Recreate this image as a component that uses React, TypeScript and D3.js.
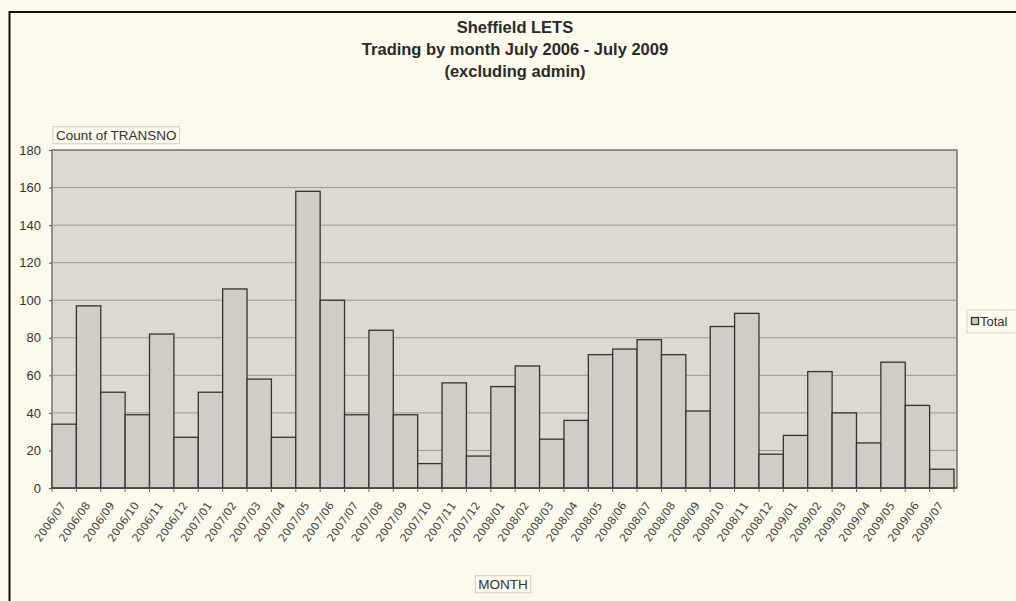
import { useEffect, useRef } from 'react';
import * as d3 from 'd3';

const months = [
  '2006/07', '2006/08', '2006/09', '2006/10', '2006/11', '2006/12',
  '2007/01', '2007/02', '2007/03', '2007/04', '2007/05', '2007/06',
  '2007/07', '2007/08', '2007/09', '2007/10', '2007/11', '2007/12',
  '2008/01', '2008/02', '2008/03', '2008/04', '2008/05', '2008/06',
  '2008/07', '2008/08', '2008/09', '2008/10', '2008/11', '2008/12',
  '2009/01', '2009/02', '2009/03', '2009/04', '2009/05', '2009/06',
  '2009/07',
];

const totals = [
  34, 97, 51, 39, 82, 27,
  51, 106, 58, 27, 158, 100,
  39, 84, 39, 13, 56, 17,
  54, 65, 26, 36, 71, 74,
  79, 71, 41, 86, 93, 18,
  28, 62, 40, 24, 67, 44,
  10,
];

const yTicks = [0, 20, 40, 60, 80, 100, 120, 140, 160, 180];

const titleLines = ['Sheffield LETS', 'Trading by month July 2006 - July 2009', '(excluding admin)'];

const App = () => {
  const svgRef = useRef(null);

  useEffect(() => {
    const svg = d3.select(svgRef.current);
    svg.selectAll('*').remove();

    const W = 1016, H = 601;
    const plot = { left: 52, right: 957, top: 150, bottom: 488 };
    const font = 'Liberation Sans, Arial, sans-serif';

    // paper
    svg.append('rect').attr('width', W).attr('height', H).attr('fill', '#fbfaec');
    svg.append('line').attr('x1', 9.5).attr('x2', W).attr('y1', 12).attr('y2', 12)
      .attr('stroke', '#111').attr('stroke-width', 2);
    svg.append('line').attr('x1', 9.5).attr('x2', 9.5).attr('y1', 11).attr('y2', H)
      .attr('stroke', '#111').attr('stroke-width', 2);

    // title
    svg.append('g').selectAll('text').data(titleLines).enter().append('text')
      .attr('x', 515)
      .attr('y', (_, i) => 33 + i * 22)
      .attr('text-anchor', 'middle')
      .attr('font-family', font)
      .attr('font-weight', 'bold')
      .attr('font-size', 16.5)
      .attr('fill', '#2a2a2a')
      .text(d => d);

    const x = d3.scaleBand().domain(months).range([plot.left, plot.right - 3]).padding(0);
    const y = d3.scaleLinear().domain([0, 180]).range([plot.bottom, plot.top]);

    // plot area
    svg.append('rect')
      .attr('x', plot.left).attr('y', plot.top)
      .attr('width', plot.right - plot.left).attr('height', plot.bottom - plot.top)
      .attr('fill', '#dcdad0')
      .attr('stroke', '#555').attr('stroke-width', 1.2);

    // gridlines
    svg.append('g').selectAll('line').data(yTicks.filter(t => t > 0 && t < 180)).enter().append('line')
      .attr('x1', plot.left).attr('x2', plot.right)
      .attr('y1', d => y(d)).attr('y2', d => y(d))
      .attr('stroke', '#9a9890').attr('stroke-width', 1);

    // y axis
    const yAxis = svg.append('g')
      .attr('transform', `translate(${plot.left},0)`)
      .call(d3.axisLeft(y).tickValues(yTicks).tickSize(3).tickPadding(8));
    yAxis.select('.domain').remove();
    yAxis.selectAll('line').attr('stroke', '#555');
    yAxis.selectAll('text')
      .attr('font-family', font).attr('font-size', 13).attr('fill', '#333');

    // bars
    svg.append('g').selectAll('rect').data(totals).enter().append('rect')
      .attr('x', (_, i) => x(months[i]))
      .attr('y', d => y(d))
      .attr('width', x.bandwidth())
      .attr('height', d => y(0) - y(d))
      .attr('fill', '#cfcdc5')
      .attr('stroke', '#333')
      .attr('stroke-width', 1.3);

    // x axis
    svg.append('line')
      .attr('x1', plot.left).attr('x2', plot.right)
      .attr('y1', plot.bottom).attr('y2', plot.bottom)
      .attr('stroke', '#444').attr('stroke-width', 1.5);
    svg.append('g').selectAll('line').data(months.concat(['end'])).enter().append('line')
      .attr('x1', (_, i) => plot.left + i * x.step())
      .attr('x2', (_, i) => plot.left + i * x.step())
      .attr('y1', plot.bottom).attr('y2', plot.bottom + 4)
      .attr('stroke', '#666');

    svg.append('g').selectAll('text').data(months).enter().append('text')
      .attr('transform', d => `translate(${x(d) + x.bandwidth() / 2 - 1},${plot.bottom + 15}) rotate(-55)`)
      .attr('text-anchor', 'end')
      .attr('dy', '0.35em')
      .attr('font-family', 'DejaVu Sans, Verdana, sans-serif')
      .attr('font-size', 11)
      .attr('fill', '#444')
      .text(d => d);

    // field buttons
    const fieldBox = (label, cx, cy, anchor) => {
      const g = svg.append('g');
      const r = g.append('rect');
      const t = g.append('text')
        .attr('x', cx).attr('y', cy)
        .attr('text-anchor', anchor)
        .attr('dy', '0.35em')
        .attr('font-family', font).attr('font-size', 13.5)
        .attr('fill', '#333')
        .text(label);
      const bb = t.node().getBBox();
      r.attr('x', bb.x - 3).attr('y', bb.y - 1)
        .attr('width', bb.width + 6).attr('height', bb.height + 2)
        .attr('fill', '#fbfaec').attr('stroke', '#cfcfc4');
    };
    fieldBox('Count of TRANSNO', 56, 135, 'start');
    fieldBox('MONTH', 503, 584, 'middle');

    // legend
    svg.append('rect').attr('x', 967).attr('y', 310).attr('width', 60).attr('height', 23)
      .attr('fill', '#fbfaec').attr('stroke', '#d5d5ca');
    svg.append('rect').attr('x', 971.5).attr('y', 317.5).attr('width', 7).attr('height', 7)
      .attr('fill', '#cfcdc5').attr('stroke', '#333').attr('stroke-width', 1.3);
    svg.append('text').attr('x', 980).attr('y', 321.5).attr('dy', '0.35em')
      .attr('font-family', font).attr('font-size', 13).attr('fill', '#333')
      .text('Total');
  }, []);

  return (
    <svg ref={svgRef} width={1016} height={601}
      style={{ position: 'absolute', left: 0, top: 0, display: 'block' }} />
  );
};

export default App;
